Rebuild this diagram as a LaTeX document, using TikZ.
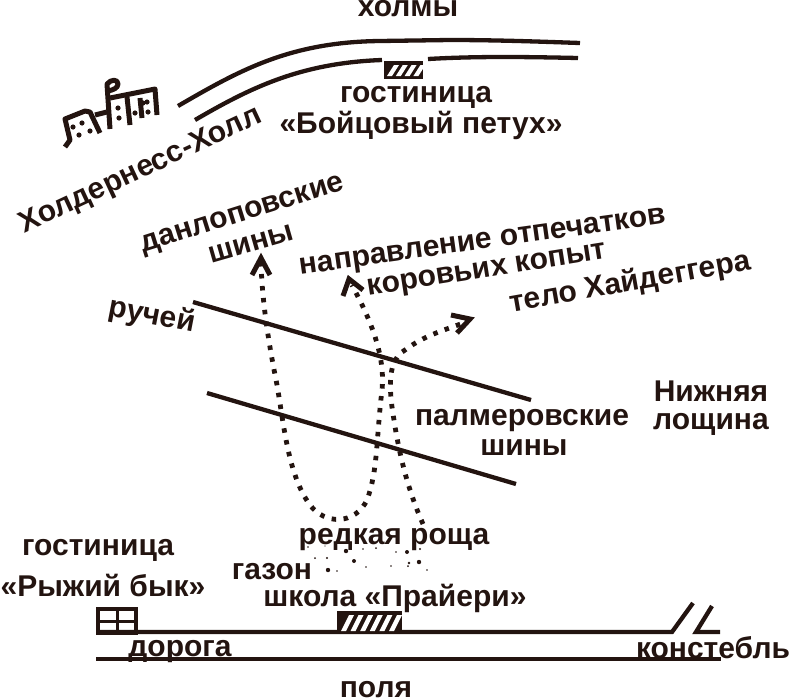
\documentclass[tikz,border=0pt]{standalone}
\usepackage{fontspec}
\setmainfont{Liberation Sans}[BoldFont={Liberation Sans Bold}]
\definecolor{ink}{HTML}{231410}
\tikzset{
 lbl/.style={text=ink,font=\fontsize{30}{30}\selectfont\bfseries,inner sep=0pt,align=center},
 thick line/.style={draw=ink,line width=4.3pt},
 trail/.style={draw=ink,line width=4.8pt,dash pattern=on 4.5pt off 7.5pt},
 tip/.style={draw=ink,line width=5pt,miter limit=10},
 city/.style={draw=ink,line width=5pt,line join=round}
}
\begin{document}
\begin{tikzpicture}[x=1pt,y=-1pt]
\useasboundingbox (0,0) rectangle (791,699);
% text
\node[lbl] (holmy) at (408,9) {холмы};
\node[lbl] (inn1a) at (416,97) {гостиница};
\node[lbl] (inn1b) at (421,125) {«Бойцовый петух»};
\node[lbl,rotate=25] (holder) at (141,171) {Холдернесс-Холл};
\node[lbl,rotate=17.5] (dun) at (243,216) {данлоповские};
\node[lbl,rotate=16] (shiny1) at (251,244) {шины};
\node[lbl,rotate=8] (napr) at (483,244) {направление отпечатков};
\node[lbl,rotate=9] (kor) at (487,272) {коровьих копыт};
\node[lbl,rotate=10] (telo) at (630,283) {тело Хайдеггера};
\node[lbl,rotate=-11] (ruch) at (152,316) {ручей};
\node[lbl] (palm) at (522,421) {палмеровские};
\node[lbl] (shiny2) at (524,448) {шины};
\node[lbl] (nizh) at (711,391) {Нижняя};
\node[lbl] (losh) at (711,424) {лощина};
\node[lbl] (inn2a) at (98,550) {гостиница};
\node[lbl] (inn2b) at (103,585) {«Рыжий бык»};
\node[lbl] (gazon) at (272,572) {газон};
\node[lbl] (grove) at (394,540) {редкая роща};
\node[lbl] (school) at (395,598) {школа «Прайери»};
\node[lbl] (road) at (180,652) {дорога};
\node[lbl] (const) at (713,648) {констебль};
\node[lbl] (fields) at (376,690) {поля};
% hills
\draw[thick line] (178,106) .. controls (240,70) and (290,42) .. (380,41) -- (450,40) .. controls (500,40) and (550,42) .. (580,43);
\draw[thick line] (195,120) .. controls (250,88) and (300,63) .. (382,60);
\draw[thick line] (428,59) .. controls (480,56) and (530,57) .. (578,58);
% hotel
\fill[ink] (384,61) rectangle (423,79);
\foreach \i in {0,...,3}{\fill[white] ({387+\i*8.8},76) -- ({392+\i*8.8},76) -- ({399+\i*8.8},65) -- ({394+\i*8.8},65) -- cycle;}
% city
\draw[city] (65,147) -- (70,140) -- (65,119) -- (85,111) -- (90,112) -- (100,133);
\draw[city] (95,115) -- (107,112);
\draw[city] (110,129) -- (107,84) .. controls (111,79) and (118,79) .. (118,84) .. controls (118,88) and (113,90) .. (108,91);
\draw[city] (110,98) -- (155,89) -- (157,115);
\draw[city] (127,97) -- (130,125);
\draw[city] (140,98) -- (142,118);
\foreach \p in {(73,127),(82,123),(79,135),(90,131),(118,108),(119,118),(135,113),(148,112),(147,102),(143,103)}{\fill[ink] \p circle (2.6pt);}
% stream
\draw[thick line] (193,302) -- (531,400);
\draw[thick line] (207,393) -- (516,484);
% trails
\draw[trail] (261,262) .. controls (262,300) and (268,340) .. (277,385) .. controls (284,425) and (288,475) .. (310,505) .. controls (325,525) and (355,525) .. (367,500) .. controls (378,470) and (376,440) .. (382,390) .. controls (386,350) and (365,310) .. (352,285);
\draw[trail] (423,524) .. controls (410,495) and (400,460) .. (394,420) .. controls (388,385) and (388,360) .. (405,350) .. controls (425,335) and (445,330) .. (466,322);
\coordinate (t1) at (261,258);
\coordinate (t2) at (349,279);
\coordinate (t3) at (470,319);
\draw[tip] (252,275) -- (t1) -- (270,275);
\draw[tip] (343,296) -- (t2) -- (363,290);
\draw[tip] (451,315) -- (t3) -- (457,333);
% grove specks
\foreach \x/\y/\r in {308/547/.8,325/546/.7,346/551/2.2,363/549/.8,376/548/1,396/552/.8,407/552/2,420/549/1.2,315/558/1,327/558/1.2,354/561/2,391/566/.8,408/566/1,409/563/1.4,419/562/2.2,328/570/2.2,337/571/.8,366/567/.8,427/570/.8}{\fill[ink] (\x,\y) circle (\r pt);}
% road
\draw[thick line] (97,632) -- (672,632) -- (693,603);
\draw[thick line] (712,606) -- (696,632) -- (720,632);
\draw[thick line] (96,659) -- (721,659);
% red bull inn
\draw[draw=ink,line width=4pt] (98,609) rectangle (136,633);
\draw[draw=ink,line width=3pt] (98,621) -- (136,621) (117,609) -- (117,633);
% school
\fill[ink] (337,611) rectangle (402,634);
\foreach \i in {0,...,5}{\fill[white] ({341+\i*9.6},631) -- ({346+\i*9.6},631) -- ({354+\i*9.6},615) -- ({349+\i*9.6},615) -- cycle;}
\end{tikzpicture}
\end{document}
